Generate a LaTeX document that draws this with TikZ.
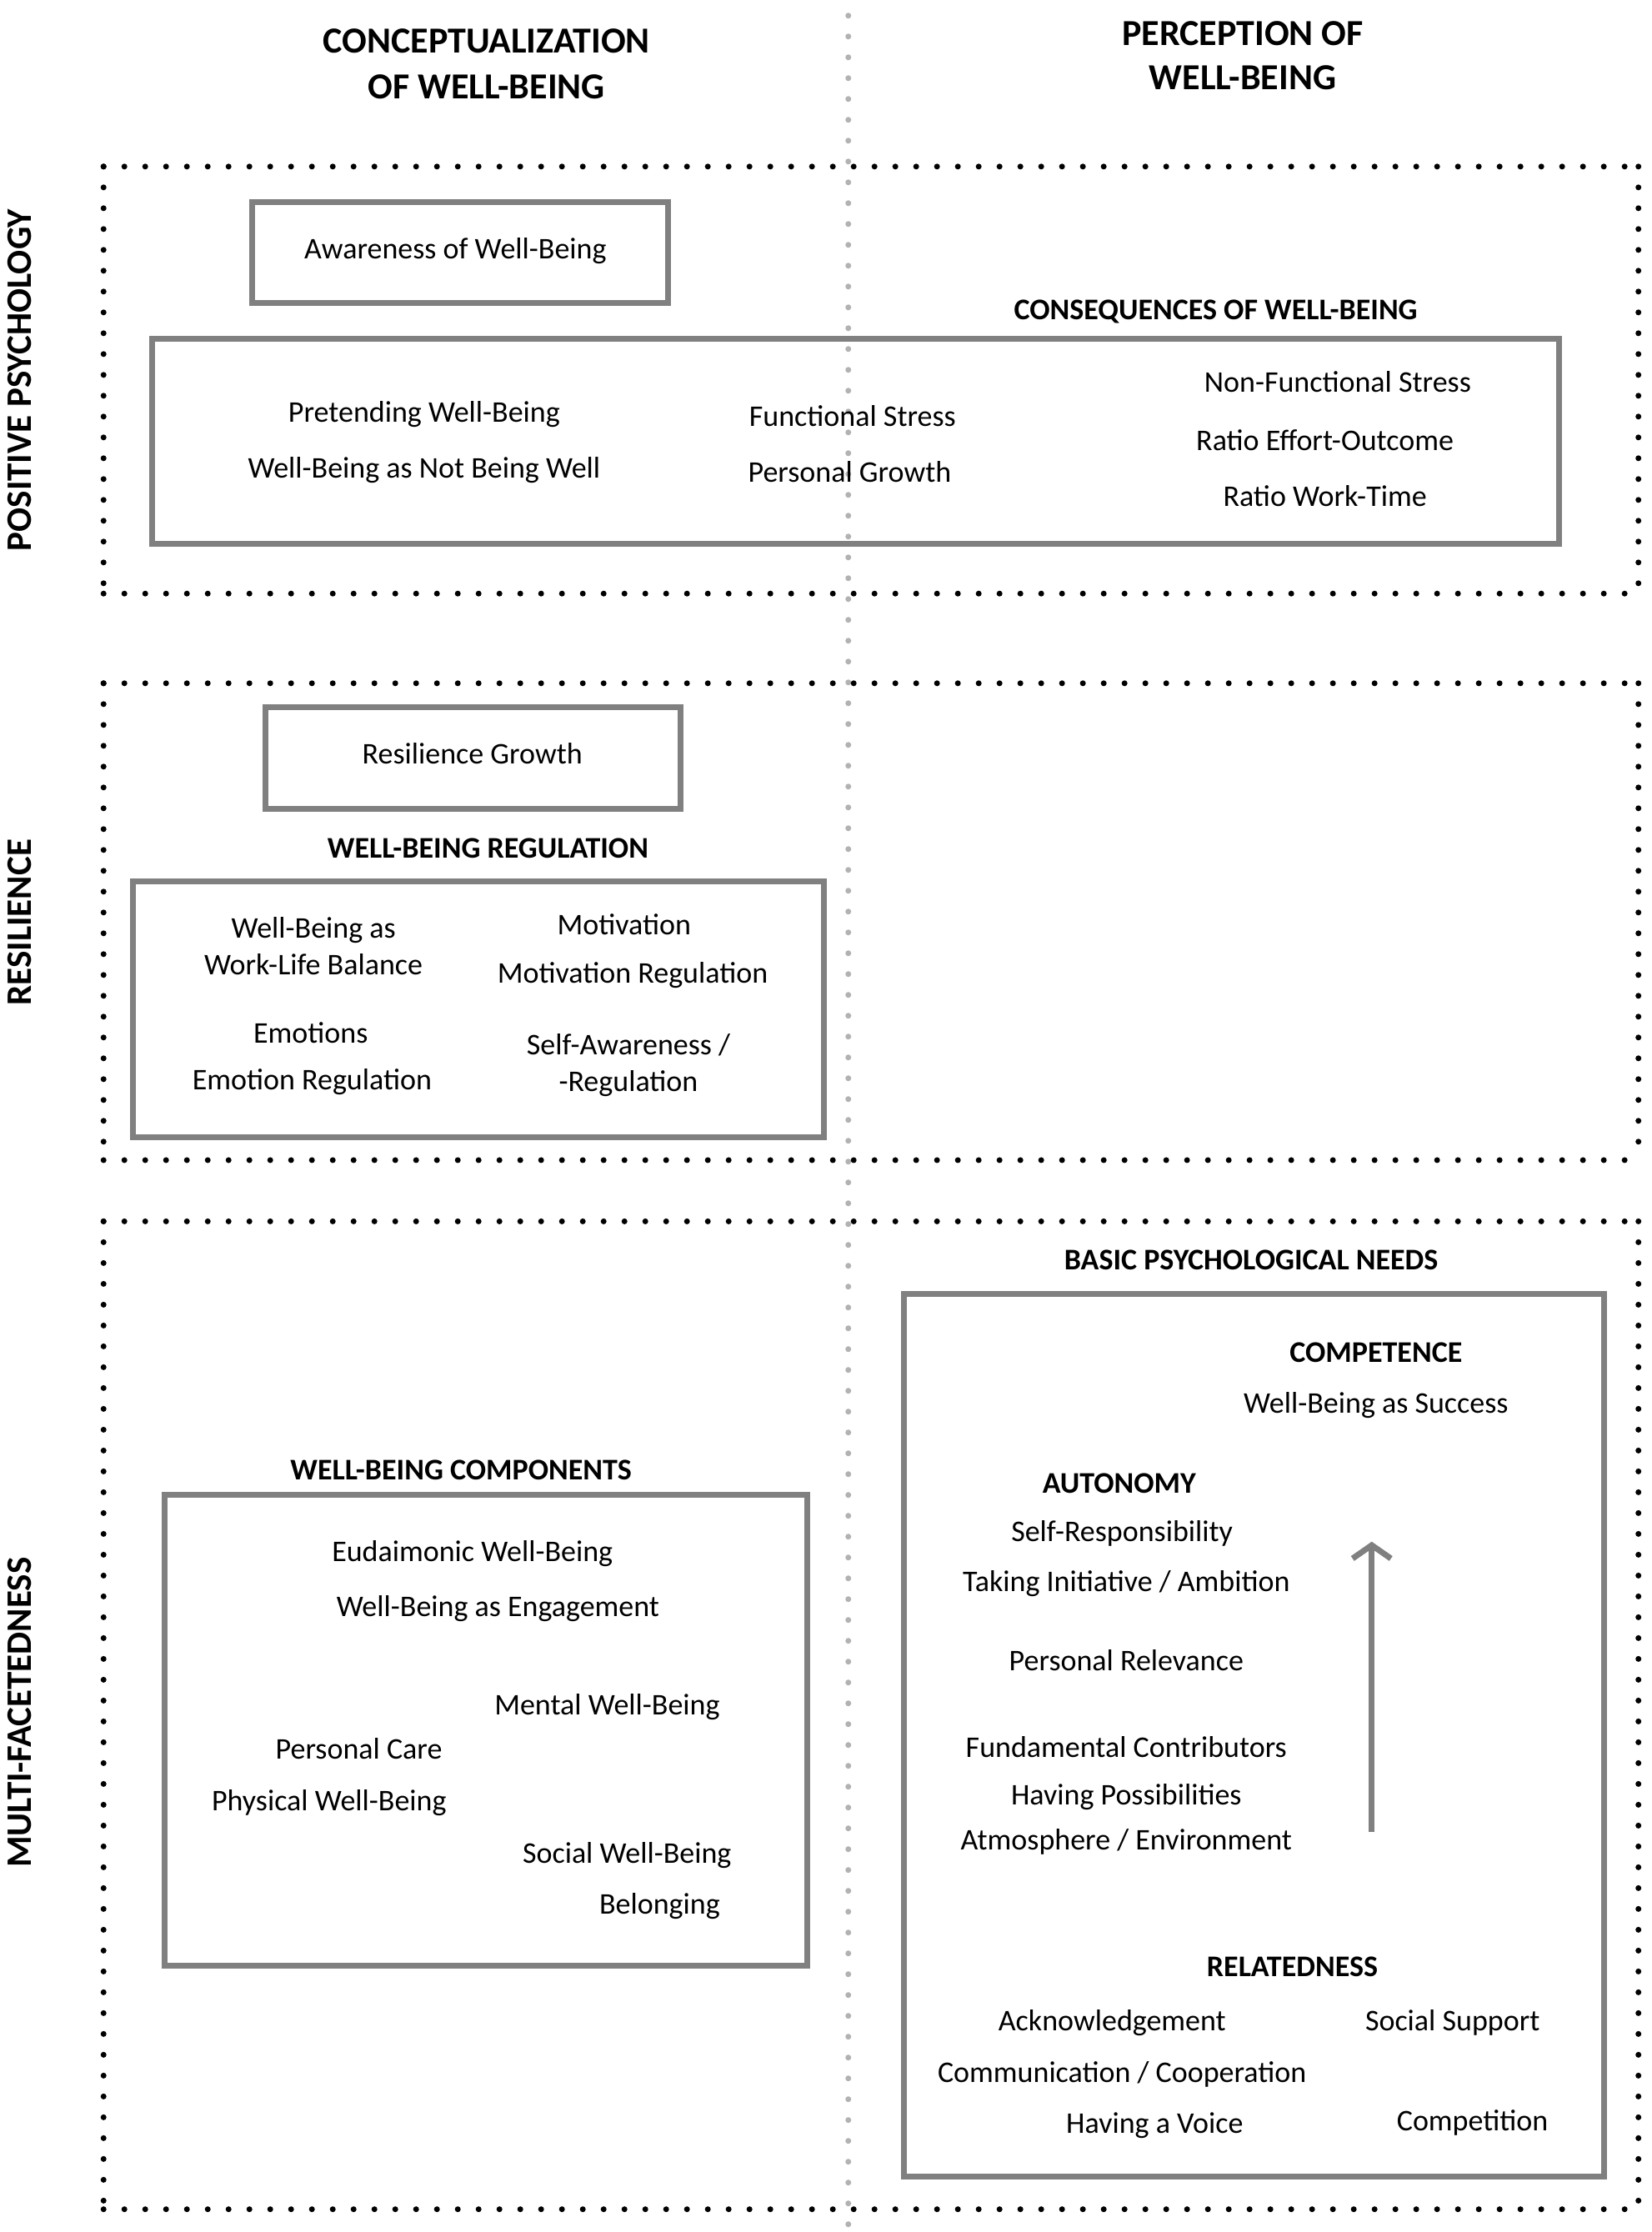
\documentclass[tikz,border=0pt]{standalone}
\usepackage{fontspec}
\setmainfont{Carlito}
\usetikzlibrary{arrows.meta,fit}
\begin{document}
\begin{tikzpicture}[x=1.702pt,y=-1.708pt,
  tx/.style={inner sep=0pt, font=\fontsize{36}{44}\selectfont, text height=23pt, text depth=0pt},
  hb/.style={inner sep=0pt, font=\fontsize{36}{44}\selectfont\bfseries, text height=23pt, text depth=0pt},
  hd/.style={inner sep=0pt, font=\fontsize{44}{52}\selectfont\bfseries, text height=28pt, text depth=0pt},
  rot/.style={inner sep=0pt, font=\fontsize{43}{52}\selectfont\bfseries, text height=27.5pt, text depth=0pt, rotate=90},
  dotline/.style={line width=7pt, line cap=round, dash pattern=on 0pt off 25pt},
  greyline/.style={dotline, draw=black!30},
  gbox/.style={draw=black!50, line width=7pt, inner sep=0pt},
]
\fill[white] (0,0) rectangle (1164,1568);
\useasboundingbox (0,0) rectangle (1164,1568);

% vertical grey divider
\coordinate (vt) at (598,11);
\coordinate (vb) at (598,1568);
\draw[greyline] (vt) -- (vb);

% dotted panels
\foreach \t/\b in {117/417, 480/815, 858/1552}{
  \draw[dotline] (73,\t) -- (1155,\t);
  \draw[dotline] (73,\b) -- (1155,\b);
  \draw[dotline] (73,\t) -- (73,\b);
  \draw[dotline] (1155,\t) -- (1155,\b);
}

% column headers
\node[hd] (h1a) at (343,29) {CONCEPTUALIZATION};
\node[hd] (h1b) at (343,61) {OF WELL-BEING};
\node[hd] (h2a) at (876,24) {PERCEPTION OF};
\node[hd] (h2b) at (876,55) {WELL-BEING};

% row labels
\node[rot] (r1) at (14,267) {POSITIVE PSYCHOLOGY};
\node[rot] (r2) at (14,648) {RESILIENCE};
\node[rot] (r3) at (14,1203) {MULTI-FACETEDNESS};

% positive psychology
\node[gbox, fit={(178,142) (471,213)}] (aw) {};
\node[tx] (awt) at (321,175) {Awareness of Well-Being};
\node[hb] (cons) at (857,218) {CONSEQUENCES OF WELL-BEING};
\node[gbox, fit={(107,238) (1099,382)}] (consbox) {};
\node[tx] (c1) at (299,290) {Pretending Well-Being};
\node[tx] (c2) at (299,329) {Well-Being as Not Being Well};
\node[tx] (c3) at (601,293) {Functional Stress};
\node[tx] (c4) at (599,332) {Personal Growth};
\node[tx] (c5) at (943,269) {Non-Functional Stress};
\node[tx] (c6) at (934,310) {Ratio Effort-Outcome};
\node[tx] (c7) at (934,349) {Ratio Work-Time};

% resilience
\node[gbox, fit={(187,497) (480,568)}] (rg) {};
\node[tx] (rgt) at (333,530) {Resilience Growth};
\node[hb] (reg) at (344,596) {WELL-BEING REGULATION};
\node[gbox, fit={(94,619) (581,799)}] (regbox) {};
\node[tx] (g1) at (221,652) {Well-Being as};
\node[tx] (g2) at (221,678) {Work-Life Balance};
\node[tx] (g3) at (219,726) {Emotions};
\node[tx] (g4) at (220,759) {Emotion Regulation};
\node[tx] (g5) at (440,650) {Motivation};
\node[tx] (g6) at (446,684) {Motivation Regulation};
\node[tx] (g7) at (443,734) {Self-Awareness /};
\node[tx] (g8) at (443,760) {-Regulation};

% multi-facetedness: components
\node[hb] (comp) at (325,1033) {WELL-BEING COMPONENTS};
\node[gbox, fit={(116,1050) (569,1381)}] (compbox) {};
\node[tx] (m1) at (333,1090) {Eudaimonic Well-Being};
\node[tx] (m2) at (351,1129) {Well-Being as Engagement};
\node[tx] (m3) at (428,1198) {Mental Well-Being};
\node[tx] (m4) at (253,1229) {Personal Care};
\node[tx] (m5) at (232,1265) {Physical Well-Being};
\node[tx] (m6) at (442,1302) {Social Well-Being};
\node[tx] (m7) at (465,1338) {Belonging};

% basic psychological needs
\node[hb] (bpn) at (882,885) {BASIC PSYCHOLOGICAL NEEDS};
\node[gbox, fit={(637,909) (1131,1529)}] (bpnbox) {};
\node[hb] (n1) at (970,950) {COMPETENCE};
\node[tx] (n2) at (970,986) {Well-Being as Success};
\node[hb] (n3) at (789,1042) {AUTONOMY};
\node[tx] (n4) at (791,1076) {Self-Responsibility};
\node[tx] (n5) at (794,1111) {Taking Initiative / Ambition};
\node[tx] (n6) at (794,1167) {Personal Relevance};
\node[tx] (n7) at (794,1228) {Fundamental Contributors};
\node[tx] (n8) at (794,1261) {Having Possibilities};
\node[tx] (n9) at (794,1293) {Atmosphere / Environment};
\node[hb] (n10) at (911,1382) {RELATEDNESS};
\node[tx] (n11) at (784,1420) {Acknowledgement};
\node[tx] (n12) at (1024,1420) {Social Support};
\node[tx] (n13) at (791,1456) {Communication / Cooperation};
\node[tx] (n14) at (814,1492) {Having a Voice};
\node[tx] (n15) at (1038,1490) {Competition};

% arrow
\coordinate (ab) at (967,1287);
\coordinate (at) at (967,1083);
\draw[draw=black!50, line width=7pt, -{Straight Barb[length=16pt,width=46pt]}] (ab) -- (at);
\end{tikzpicture}
\end{document}
